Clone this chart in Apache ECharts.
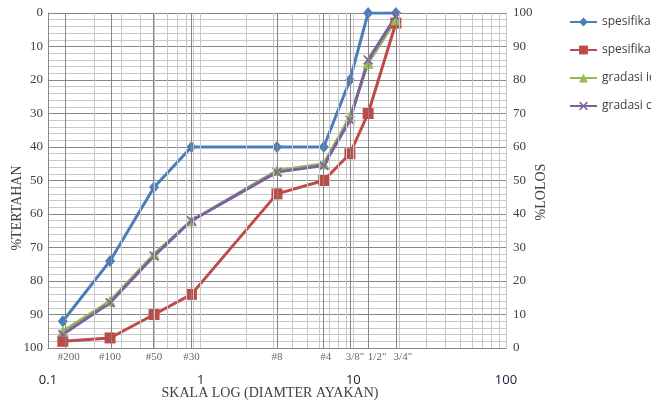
<!DOCTYPE html>
<html><head><meta charset="utf-8">
<script src="https://cdn.jsdelivr.net/npm/echarts@6/dist/echarts.min.js"></script>
<style>html,body{margin:0;padding:0;background:#fff}#c{width:651px;height:403px}</style>
</head><body><div id="c"></div>
<script>
// sieve sizes (mm) as placed on the log axis, and their labels
const sieveSizes = [0.125, 0.255, 0.495, 0.87, 3.16, 6.4, 9.5, 12.5, 19];
const sieveLabels = ['#200', '#100', '#50', '#30', '#8', '#4', '3/8"', '1/2"', '3/4"'];
const seriesNames = ['spesifikasi atas', 'spesifikasi bawah', 'gradasi ideal', 'gradasi campuran'];
// values in %TERTAHAN (left axis, inverted); %LOLOS = 100 - value
const specUpper = [92, 74, 52, 40, 40, 40, 20, 0, 0];
const specLower = [98, 97, 90, 84, 54, 50, 42, 30, 3];
const idealGrad = [95, 86, 72, 62, 47, 45, 31, 15, 2];
const mixGrad   = [96, 86.5, 72.5, 62, 47.5, 45.5, 32, 14, 1];
const xTickValues = [0.1, 1, 10, 100];
// horizontal nudges of the sieve labels (styling only)
const sieveLabelNudge = [6, 0, 0, 0, 0, 2, 5, 9, 7];

const serif = '"Liberation Serif", "Times New Roman", serif';
const sans = '"Open Sans", "Liberation Sans", sans-serif';

// log-scale minor grid positions
const minorGrid = [];
[0.1, 1, 10].forEach(d => { for (let k = 2; k <= 10; k++) minorGrid.push(+(k * d).toPrecision(3)); });

const chart = echarts.init(document.getElementById('c'), null, {renderer: 'canvas'});

function pts(arr) { return sieveSizes.map((x, i) => [x, arr[i]]); }

const markData = minorGrid.map(v => ({xAxis: v, lineStyle: {color: '#c8c8c8', width: 1, type: 'solid'}}))
  .concat(sieveSizes.map(v => ({xAxis: v, lineStyle: {color: '#868686', width: 1, type: 'solid'}})));

const xCross = 'path://M0,1.2 L1.2,0 L5,3.8 L8.8,0 L10,1.2 L6.2,5 L10,8.8 L8.8,10 L5,6.2 L1.2,10 L0,8.8 L3.8,5 Z';

chart.setOption({
  animation: false,
  backgroundColor: '#ffffff',
  grid: {left: 48, right: 145, top: 13, bottom: 55},
  legend: {
    data: seriesNames,
    orient: 'vertical', left: 569, top: 16, padding: 0,
    itemWidth: 27, itemHeight: 11, itemGap: 16,
    textStyle: {fontFamily: sans, fontSize: 12, color: '#404040'}
  },
  xAxis: {
    type: 'log', logBase: 10, min: 0.1, max: 100,
    axisLine: {onZero: false, lineStyle: {color: '#868686'}},
    axisTick: {show: false},
    splitLine: {show: false},
    axisLabel: {
      margin: 26, fontFamily: sans, fontSize: 13, color: '#1c1c3a',
      formatter: v => xTickValues.indexOf(+v) >= 0 ? String(+v) : ''
    }
  },
  yAxis: [
    {
      type: 'value', min: 0, max: 100, interval: 10, inverse: true, position: 'left',
      axisLine: {show: true, onZero: false, lineStyle: {color: '#868686'}},
      axisTick: {show: false},
      axisLabel: {margin: 5, fontFamily: serif, fontSize: 13, color: '#404040'},
      splitLine: {show: true, lineStyle: {color: '#868686', width: 1}},
      minorTick: {show: false, splitNumber: 5},
      minorSplitLine: {show: true, lineStyle: {color: '#c8c8c8', width: 1}}
    },
    {
      type: 'value', min: 0, max: 100, interval: 10, position: 'right',
      axisLine: {show: true, onZero: false, lineStyle: {color: '#868686'}},
      axisTick: {show: false},
      axisLabel: {margin: 7, fontFamily: serif, fontSize: 13, color: '#404040'},
      splitLine: {show: false}
    }
  ],
  graphic: [
    {type: 'text', x: 17, y: 208, rotation: Math.PI / 2,
     style: {text: '%TERTAHAN', font: '14px ' + serif, fill: '#404040', align: 'center', verticalAlign: 'middle'}},
    {type: 'text', x: 541, y: 192, rotation: Math.PI / 2,
     style: {text: '%LOLOS', font: '14px ' + serif, fill: '#404040', align: 'center', verticalAlign: 'middle'}},
    {type: 'text', x: 270, y: 393,
     style: {text: 'SKALA LOG (DIAMTER AYAKAN)', font: '14px ' + serif, fill: '#404040', align: 'center', verticalAlign: 'middle'}}
  ],
  series: [
    {
      name: 'sieves', type: 'scatter', z: 1, silent: true,
      symbolSize: 1, itemStyle: {color: 'rgba(0,0,0,0)'},
      data: sieveSizes.map((x, i) => ({value: [x, 100], label: {offset: [sieveLabelNudge[i], 0]}})),
      label: {
        show: true, position: 'bottom', distance: 3,
        fontFamily: serif, fontSize: 11, color: '#404040',
        formatter: p => sieveLabels[p.dataIndex]
      },
      markLine: {silent: true, symbol: 'none', label: {show: false}, animation: false, data: markData}
    },
    {
      name: seriesNames[0], type: 'line', z: 3, data: pts(specUpper),
      symbol: 'diamond', symbolSize: [10, 12], color: '#4a7ebb',
      lineStyle: {width: 3, color: '#4a7ebb'}, itemStyle: {color: '#4a7ebb'}
    },
    {
      name: seriesNames[1], type: 'line', z: 3, data: pts(specLower),
      symbol: 'rect', symbolSize: 11, color: '#be4b48',
      lineStyle: {width: 3, color: '#be4b48'}, itemStyle: {color: '#be4b48'}
    },
    {
      name: seriesNames[2], type: 'line', z: 3, data: pts(idealGrad),
      symbol: 'triangle', symbolSize: 11, color: '#98b954',
      lineStyle: {width: 3, color: '#98b954'}, itemStyle: {color: '#98b954'}
    },
    {
      name: seriesNames[3], type: 'line', z: 3, data: pts(mixGrad),
      symbol: xCross, symbolSize: 10, color: '#7d60a0',
      lineStyle: {width: 3, color: '#7d60a0'}, itemStyle: {color: '#7d60a0'}
    }
  ]
});
</script>
</body></html>
